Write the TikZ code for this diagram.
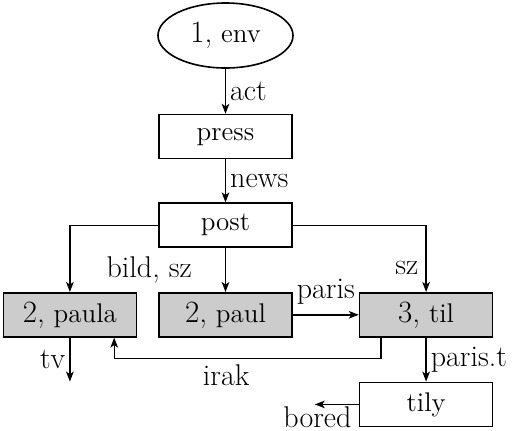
\documentclass[tikz,border=0pt]{standalone}
\usepackage{fontspec}
\usepackage{tikz}
\usetikzlibrary{positioning,shapes.geometric,arrows.meta}

\newcommand{\namefont}{\fontsize{13.5}{16}\selectfont}
\newcommand{\lblfont}{\fontsize{15}{18}\selectfont}
\newcommand{\bnum}[1]{{\fontsize{15.5}{18}\selectfont #1}}

\begin{document}
\begin{tikzpicture}[x=0.5pt,y=-0.5pt,node distance=22pt]
        \tikzstyle{ovalnode} = [ellipse, draw=black, line width=0.8pt, minimum width=67.5pt, minimum height=32.5pt, inner sep=0pt, font=\namefont]
        \tikzstyle{whitebox} = [rectangle, draw=black, line width=0.8pt, minimum width=66.5pt, minimum height=22pt, text centered, font=\namefont]
        \tikzstyle{greybox} = [whitebox, fill=black!20]
        \tikzstyle{arrow} = [line width=0.7pt,-{Stealth[length=5pt,width=3.8pt,inset=1.3pt]}]
        \tikzstyle{lbl} = [font=\lblfont, inner sep=2pt]
        \useasboundingbox (0,0) rectangle (515,430);

        \node (env) [ovalnode] at (225.5,35.5) {\bnum{1,} env};
        \node (press) [whitebox, below=22.5pt of env] {press};
        \node (post) [whitebox, below=21.5pt of press] {post};
        \node (paul) [greybox, below=of post] {\bnum{2,} paul};
        \node (paula) [greybox, left=10.5pt of paul] {\bnum{2,} paula};
        \node (til) [greybox, right=33pt of paul] {\bnum{3,} til};
        \node (tily) [whitebox, below=of til] {tily};
        \coordinate [below=of paula] (tvend);
        \coordinate [left=of tily] (boredend);

        \draw [arrow] (env) -- node[lbl, right] {act} (press);
        \draw [arrow] (press) -- node[lbl, right] {news} (post);
        \draw [arrow] (post.west) -| (paula.north);
        \draw [arrow] (post) -- node[lbl, left=14.5pt] {bild, sz} (paul);
        \draw [arrow] (post.east) -| node[lbl, pos=0.82, left=1.5pt] {sz} (til.north);
        \draw [arrow] (paul) -- node[lbl, above=3pt] {paris} (til);
        \draw [arrow] ([xshift=11pt]til.south west) -- ++(0,-10.5pt) -| node[lbl, pos=0.29, below=0.5pt] {irak} ([xshift=-11.5pt]paula.south east);
        \draw [arrow] (paula) -- node[lbl, left] {tv} (tvend);
        \draw [arrow] (til) -- node[lbl, right] {paris.t} (tily);
        \draw [arrow] (tily) -- node[lbl, pos=0.94, below=0pt, inner sep=1pt] {bored} (boredend);
    \end{tikzpicture}
\end{document}
